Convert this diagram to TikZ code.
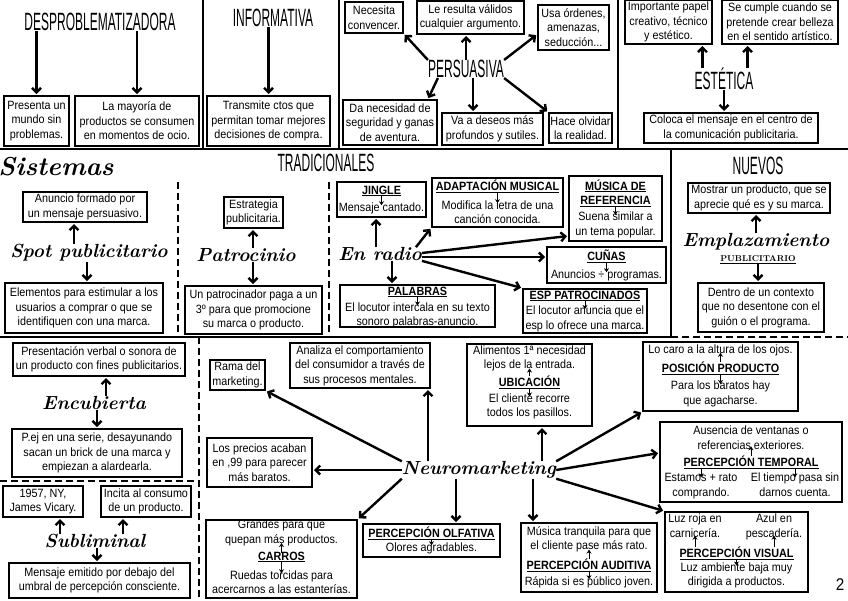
\documentclass[tikz,border=0pt]{standalone}
\usepackage{fontspec}
\setsansfont{Liberation Sans}[FakeStretch=0.9]
\newfontfamily\headcaps{Liberation Sans}[FakeStretch=0.48]
\usepackage{tikz}
\usetikzlibrary{arrows.meta, calc}
\newcommand\notefont{\sffamily\fontsize{12}{14.5}\selectfont}
\tikzset{
  % Box styles
  notebox/.style={rectangle, draw=black, line width=2pt, inner sep=1pt, align=center, font=\notefont},
  framebox/.style={rectangle, draw=black, line width=2pt, inner sep=0pt},
  notetext/.style={inner sep=0pt, align=center, font=\notefont},
  keyword/.style={inner sep=0pt, align=center, font=\notefont\bfseries},
  % Title styles
  capstitle/.style={inner sep=0pt, font=\headcaps\fontsize{25}{25}\selectfont},
  handtitle/.style={inner sep=0pt, font=\rmfamily\bfseries\itshape\fontsize{19}{19}\selectfont},
  % Arrow styles
  bigarrow/.style={-{Straight Barb[length=4.5pt,width=9pt]}, line width=2.4pt, shorten >=1pt},
  tinyarrow/.style={-{Stealth[length=4pt,width=5pt]}, line width=1pt},
  % Divider styles
  divider/.style={line width=2.6pt},
  dashdivider/.style={line width=2.6pt, dash pattern=on 7pt off 4pt}
}

\begin{document}
\begin{tikzpicture}[x=1pt, y=-1pt]
  \useasboundingbox (0,0) rectangle (848,600);
  \fill[white] (0,0) rectangle (848,600);

  % Section dividers
  \draw[divider] (0,149) -- (848,149);
  \foreach \xx in {203,339,618} {
    \draw[divider] (\xx,0) -- (\xx,149);
  }
  \draw[divider] (671,149) -- (671,337);
  \foreach \xx in {178,329} {
    \draw[dashdivider] (\xx,182) -- (\xx,337);
  }
  \draw[divider] (0,337) -- (671,337);
  \draw[dashdivider] (671,337) -- (848,337);
  \draw[dashdivider] (199,337) -- (199,600);
  \draw[dashdivider] (0,481) -- (199,481);

  % Desproblematizadora
  \node[capstitle] (desp) at (100,22) {DESPROBLEMATIZADORA};
  \node[notebox, minimum width=65pt, minimum height=50pt] (presenta) at (36.5,121) {Presenta un\\mundo sin\\problemas.};
  \node[notebox, minimum width=124pt, minimum height=50pt] (mayoria) at (137,121) {La mayoría de\\productos se consumen\\en momentos de ocio.};
  \draw[bigarrow] (desp.south -| presenta.north) -- (presenta.north);
  \draw[bigarrow] (desp.south -| mayoria.north) -- (mayoria.north);

  % Informativa
  \node[capstitle] (informativa) at (273,18) {INFORMATIVA};
  \node[notebox, minimum width=123pt, minimum height=50pt] (informa) at (268.5,121) {Transmite ctos que\\permitan tomar mejores\\decisiones de compra.};
  \draw[bigarrow] (informativa.south -| informa.north) -- (informa.north);

  % Persuasiva
  \node[capstitle] (persuasiva) at (466,69) {PERSUASIVA};
  \node[notebox, minimum width=58pt, minimum height=31pt] (necesita) at (374,17.5) {Necesita\\convencer.};
  \node[notebox, minimum width=107pt, minimum height=33pt] (resulta) at (470.5,17.5) {Le resulta válidos\\cualquier argumento.};
  \node[notebox, minimum width=71pt, minimum height=45pt] (usa) at (573.5,27.5) {Usa órdenes,\\amenazas,\\seducción...};
  \node[notebox, minimum width=94pt, minimum height=45pt] (da) at (390,122.5) {Da necesidad de\\seguridad y ganas\\de aventura.};
  \node[notebox, minimum width=101pt, minimum height=32pt] (va) at (492.5,129) {Va a deseos más\\profundos y sutiles.};
  \node[notebox, minimum width=63pt, minimum height=30pt] (hace) at (580.5,128) {Hace olvidar\\la realidad.};
  \draw[bigarrow] (persuasiva.north west) -- (necesita.south east);
  \draw[bigarrow] (persuasiva.north) -- (persuasiva.north |- resulta.south);
  \draw[bigarrow] (persuasiva.north east) -- ([yshift=-7pt]usa.west);
  \draw[bigarrow] ([xshift=10pt]persuasiva.south west) -- ([xshift=-10pt]da.north east);
  \draw[bigarrow] ([xshift=7pt]persuasiva.south) -- ([xshift=7pt]persuasiva.south |- va.north);
  \draw[bigarrow] (persuasiva.south east) -- (hace.north west);

  % Estetica
  \node[capstitle] (estetica) at (724,79) {ESTÉTICA};
  \node[notebox, minimum width=87pt, minimum height=44pt] (importante) at (668.5,22) {Importante papel\\creativo, técnico\\y estético.};
  \node[notebox, minimum width=116pt, minimum height=44pt] (cumple) at (780,22) {Se cumple cuando se\\pretende crear belleza\\en el sentido artístico.};
  \node[notebox, minimum width=174pt, minimum height=30pt] (coloca) at (731,128) {Coloca el mensaje en el centro de\\la comunicación publicitaria.};
  \draw[bigarrow] ([xshift=8pt]estetica.north west) -- ([xshift=8pt]estetica.north west |- importante.south);
  \draw[bigarrow] ([xshift=-6pt]estetica.north east) -- ([xshift=-6pt]estetica.north east |- cumple.south);
  \draw[bigarrow] (estetica.south) -- (estetica.south |- coloca.north);

  % Sistemas: headings
  \node[handtitle, font=\rmfamily\bfseries\itshape\fontsize{26}{26}\selectfont] (sistemas) at (56,167) {Sistemas};
  \node[capstitle] (tradicionales) at (326,163) {TRADICIONALES};
  \node[capstitle] (nuevos) at (758,166) {NUEVOS};

  % Spot publicitario
  \node[handtitle] (spot) at (89,253) {Spot publicitario};
  \node[notebox, minimum width=124pt, minimum height=30pt] (anuncio) at (85,207) {Anuncio formado por\\un mensaje persuasivo.};
  \node[notebox, minimum width=158pt, minimum height=50pt] (elementos) at (84,308) {Elementos para estimular a los\\usuarios a comprar o que se\\identifiquen con una marca.};
  \draw[bigarrow] ([xshift=-15pt]spot.north) -- ([xshift=-15pt]spot.north |- anuncio.south);
  \draw[bigarrow] ([xshift=-2pt]spot.south) -- ([xshift=-2pt]spot.south |- elementos.north);

  % Patrocinio
  \node[handtitle] (patrocinio) at (246,255) {Patrocinio};
  \node[notebox, minimum width=59pt, minimum height=31pt] (estrategia) at (253.5,212.5) {Estrategia\\publicitaria.};
  \node[notebox, minimum width=137pt, minimum height=48pt] (patrocinador) at (253.5,310) {Un patrocinador paga a un\\3º para que promocione\\su marca o producto.};
  \draw[bigarrow] ([xshift=7pt]patrocinio.north) -- ([xshift=7pt]patrocinio.north |- estrategia.south);
  \draw[bigarrow] ([xshift=7pt]patrocinio.south) -- ([xshift=7pt]patrocinio.south |- patrocinador.north);

  % En radio
  \node[handtitle] (radio) at (380,254) {En radio};
  \node[framebox, minimum width=89pt, minimum height=35pt] (jingle) at (381.5,199.5) {};
  \node[keyword] (jingleH) at (381.5,191) {\underline{JINGLE}};
  \node[notetext] (jingleT) at (381.5,208) {Mensaje cantado.};
  \draw[tinyarrow] ([yshift=1pt]jingleH.south) -- ([yshift=-3pt]jingleT.north);

  \node[framebox, minimum width=131pt, minimum height=49pt] (adapt) at (497.5,202.5) {};
  \node[keyword] (adaptH) at (497.5,186) {\underline{ADAPTACIÓN MUSICAL}};
  \node[notetext] (adaptT) at (497.5,212) {Modifica la letra de una\\canción conocida.};
  \draw[tinyarrow] ([yshift=1pt]adaptH.south) -- ([yshift=-3pt]adaptT.north);

  \node[framebox, minimum width=93pt, minimum height=65pt] (musica) at (615.5,208.5) {};
  \node[keyword] (musicaH) at (615.5,193) {\underline{MÚSICA DE}\\\underline{REFERENCIA}};
  \node[notetext] (musicaT) at (615.5,225) {Suena similar a\\un tema popular.};
  \draw[tinyarrow] ([yshift=1pt]musicaH.south) -- ([yshift=-3pt]musicaT.north);

  \node[framebox, minimum width=119pt, minimum height=36pt] (cunas) at (606.5,265) {};
  \node[keyword] (cunasH) at (606.5,256) {\underline{CUÑAS}};
  \node[notetext] (cunasT) at (606.5,275) {Anuncios ÷ programas.};
  \draw[tinyarrow] ([yshift=1pt]cunasH.south) -- ([yshift=-3pt]cunasT.north);

  \node[framebox, minimum width=155pt, minimum height=42pt] (palabras) at (417.5,306) {};
  \node[keyword] (palabrasH) at (417.5,292) {\underline{PALABRAS}};
  \node[notetext] (palabrasT) at (417.5,315.5) {El locutor intercala en su texto\\sonoro palabras-anuncio.};
  \draw[tinyarrow] ([yshift=1pt]palabrasH.south) -- ([yshift=-3pt]palabrasT.north);

  \node[framebox, minimum width=124pt, minimum height=44pt] (esp) at (585,311) {};
  \node[keyword] (espH) at (585,296) {\underline{ESP PATROCINADOS}};
  \node[notetext] (espT) at (585,319) {El locutor anuncia que el\\esp lo ofrece una marca.};
  \draw[tinyarrow] ([yshift=1pt]espH.south) -- ([yshift=-3pt]espT.north);

  \draw[bigarrow] ([xshift=-4pt]radio.north) -- ([xshift=-4pt]radio.north |- jingle.south);
  \draw[bigarrow] ([xshift=-6pt]radio.north east) -- (adapt.south west);
  \draw[bigarrow] ([yshift=1pt]radio.east) -- ([yshift=6pt]musica.south west);
  \draw[bigarrow] ([yshift=-3pt]radio.east) -- ([yshift=8pt]cunas.west);
  \draw[bigarrow] (radio.south east) -- (esp.north west);
  \draw[bigarrow] ([xshift=12pt]radio.south) -- ([xshift=12pt]radio.south |- palabras.north);

  % Emplazamiento publicitario
  \node[handtitle] (emplaza) at (756,242) {Emplazamiento};
  \node[inner sep=0pt, font=\rmfamily\bfseries\fontsize{8.5}{8.5}\selectfont] (publicitario) at (758,260) {\underline{PUBLICITARIO}};
  \node[notebox, minimum width=142pt, minimum height=30pt] (mostrar) at (759,198) {Mostrar un producto, que se\\aprecie qué es y su marca.};
  \node[notebox, minimum width=126pt, minimum height=49pt] (dentro) at (761,307.5) {Dentro de un contexto\\que no desentone con el\\guión o el programa.};
  \draw[bigarrow] (emplaza.north) -- (emplaza.north |- mostrar.south);
  \draw[bigarrow] (publicitario.south) -- (publicitario.south |- dentro.north);

  % Encubierta
  \node[handtitle] (encubierta) at (94,403) {Encubierta};
  \node[notebox, minimum width=172pt, minimum height=33pt] (presentacion) at (99,359.5) {Presentación verbal o sonora de\\un producto con fines publicitarios.};
  \node[notebox, minimum width=170pt, minimum height=48pt] (pej) at (97,453) {P.ej en una serie, desayunando\\sacan un brick de una marca y\\empiezan a alardearla.};
  \draw[bigarrow] ([xshift=12pt]encubierta.north) -- ([xshift=12pt]encubierta.north |- presentacion.south);
  \draw[bigarrow] ([xshift=3pt]encubierta.south) -- ([xshift=3pt]encubierta.south |- pej.north);

  % Subliminal
  \node[handtitle] (subliminal) at (95,541) {Subliminal};
  \node[notebox, minimum width=80pt, minimum height=31pt] (vicary) at (43,501.5) {1957, NY,\\James Vicary.};
  \node[notebox, minimum width=90pt, minimum height=31pt] (incita) at (146,501.5) {Incita al consumo\\de un producto.};
  \node[notebox, minimum width=181pt, minimum height=35pt] (mensaje) at (99.5,580.5) {Mensaje emitido por debajo del\\umbral de percepción consciente.};
  \draw[bigarrow] ([xshift=-35pt]subliminal.north) -- ([xshift=-35pt]subliminal.north |- vicary.south);
  \draw[bigarrow] ([xshift=28pt]subliminal.north) -- ([xshift=28pt]subliminal.north |- incita.south);
  \draw[bigarrow] ([xshift=2pt]subliminal.south) -- ([xshift=2pt]subliminal.south |- mensaje.north);

  % Neuromarketing
  \node[handtitle] (neuro) at (479,470) {Neuromarketing};
  \node[notebox, minimum width=55pt, minimum height=30pt] (rama) at (237.5,375) {Rama del\\marketing.};
  \node[notebox, minimum width=140pt, minimum height=45pt] (analiza) at (360,365.5) {Analiza el comportamiento\\del consumidor a través de\\sus procesos mentales.};
  \node[notebox, minimum width=105pt, minimum height=49pt] (precios) at (259.5,462.5) {Los precios acaban\\en ,99 para parecer\\más baratos.};

  \node[framebox, minimum width=125pt, minimum height=82pt] (ubic) at (529.5,385) {};
  \node[notetext] (ubicA) at (529.5,358.5) {Alimentos 1ª necesidad\\lejos de la entrada.};
  \node[keyword] (ubicH) at (529.5,382) {\underline{UBICACIÓN}};
  \node[notetext] (ubicB) at (529.5,406.5) {El cliente recorre\\todos los pasillos.};
  \draw[tinyarrow] ([yshift=-1pt]ubicH.north) -- ([yshift=3pt]ubicA.south);
  \draw[tinyarrow] ([yshift=1pt]ubicH.south) -- ([yshift=-3pt]ubicB.north);

  \node[framebox, minimum width=155pt, minimum height=69pt] (posicion) at (720.5,376.5) {};
  \node[notetext] (posA) at (720.5,350) {Lo caro a la altura de los ojos.};
  \node[keyword] (posH) at (720.5,368) {\underline{POSICIÓN PRODUCTO}};
  \node[notetext] (posB) at (720.5,394) {Para los baratos hay\\que agacharse.};
  \draw[tinyarrow] ([yshift=-1pt]posH.north) -- ([yshift=3pt]posA.south);
  \draw[tinyarrow] ([yshift=1pt]posH.south) -- ([yshift=-3pt]posB.north);

  \node[framebox, minimum width=182pt, minimum height=80pt] (temporal) at (751,462) {};
  \node[notetext] (tempA) at (751,437.5) {Ausencia de ventanas o\\referencias exteriores.};
  \node[keyword] (tempH) at (751,462) {\underline{PERCEPCIÓN TEMPORAL}};
  \node[notetext] (tempL) at (701,486) {\strut Estamos + rato\\comprando.\strut};
  \node[notetext] (tempR) at (795,486) {\strut El tiempo pasa sin\\darnos cuenta.\strut};
  \draw[tinyarrow] ([yshift=-1pt]tempH.north) -- ([yshift=3pt]tempA.south);
  \draw[tinyarrow] ([yshift=1pt]tempH.south -| tempL.north) -- ([yshift=-6pt]tempL.north);
  \draw[tinyarrow] ([yshift=1pt]tempH.south -| tempR.north) -- ([yshift=-6pt]tempR.north);

  \node[framebox, minimum width=143pt, minimum height=80pt] (visual) at (736.5,552) {};
  \node[notetext] (visL) at (695,527) {\strut Luz roja en\\carnicería.\strut};
  \node[notetext] (visR) at (774,527) {\strut Azul en\\pescadería.\strut};
  \node[keyword] (visH) at (736.5,553) {\underline{PERCEPCIÓN VISUAL}};
  \node[notetext] (visB) at (736.5,575.5) {Luz ambiente baja muy\\dirigida a productos.};
  \draw[tinyarrow] ([yshift=-1pt]visH.north -| visL.south) -- ([yshift=6pt]visL.south);
  \draw[tinyarrow] ([yshift=-1pt]visH.north -| visR.south) -- ([yshift=6pt]visR.south);
  \draw[tinyarrow] ([yshift=1pt]visH.south) -- ([yshift=-3pt]visB.north);

  \node[framebox, minimum width=136pt, minimum height=69pt] (auditiva) at (589,557.5) {};
  \node[notetext] (audA) at (589,539.5) {Música tranquila para que\\el cliente pase más rato.};
  \node[keyword] (audH) at (589,565) {\underline{PERCEPCIÓN AUDITIVA}};
  \node[notetext] (audB) at (589,582) {Rápida si es público joven.};
  \draw[tinyarrow] ([yshift=-1pt]audH.north) -- ([yshift=3pt]audA.south);
  \draw[tinyarrow] ([yshift=1pt]audH.south) -- ([yshift=-3pt]audB.north);

  \node[framebox, minimum width=137pt, minimum height=33pt] (olfativa) at (431.5,540.5) {};
  \node[keyword] (olfH) at (431.5,533) {\underline{PERCEPCIÓN OLFATIVA}};
  \node[notetext] (olfT) at (431.5,548) {Olores agradables.};
  \draw[tinyarrow] ([yshift=1pt]olfH.south) -- ([yshift=-3pt]olfT.north);

  \node[framebox, minimum width=151pt, minimum height=78pt] (carros) at (281.5,559) {};
  \node[notetext] (carA) at (281.5,533) {Grandes para que\\quepan más productos.};
  \node[keyword] (carH) at (281.5,557) {\underline{CARROS}};
  \node[notetext] (carB) at (281.5,582) {Ruedas torcidas para\\acercarnos a las estanterías.};
  \draw[tinyarrow] ([yshift=-1pt]carH.north) -- ([yshift=3pt]carA.south);
  \draw[tinyarrow] ([yshift=1pt]carH.south) -- ([yshift=-3pt]carB.north);

  \draw[bigarrow] (neuro.north west) -- (rama.south east);
  \draw[bigarrow] ([xshift=-51pt]neuro.north) -- ([xshift=-51pt]neuro.north |- analiza.south);
  \draw[bigarrow] ([xshift=63pt]neuro.north) -- ([xshift=63pt]neuro.north |- ubic.south);
  \draw[bigarrow] (neuro.north east) -- (posicion.south west);
  \draw[bigarrow] (neuro.east) -- ([yshift=9pt]temporal.west);
  \draw[bigarrow] (neuro.south east) -- (visual.north west);
  \draw[bigarrow] ([xshift=54pt]neuro.south) -- ([xshift=54pt]neuro.south |- auditiva.north);
  \draw[bigarrow] ([xshift=-23pt]neuro.south) -- ([xshift=-23pt]neuro.south |- olfativa.north);
  \draw[bigarrow] (neuro.south west) -- (carros.north east);
  \draw[bigarrow] (neuro.west) -- (neuro.west -| precios.east);

  % Page number
  \node[font=\sffamily\fontsize{17}{17}\selectfont] (pagenum) at (840,585) {2};
\end{tikzpicture}
\end{document}
